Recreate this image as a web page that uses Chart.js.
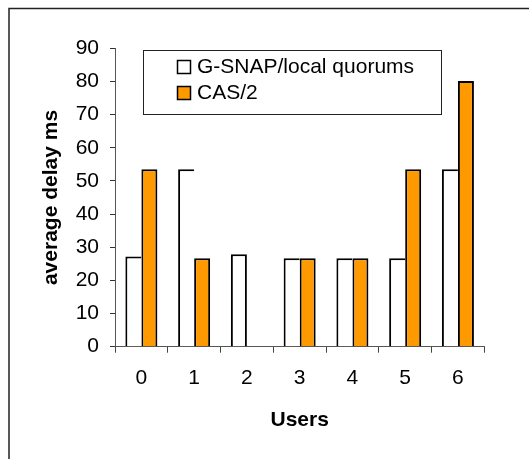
<!DOCTYPE html>
<html>
<head>
<meta charset="utf-8">
<script src="https://cdn.jsdelivr.net/npm/chart.js@4.4.1/dist/chart.umd.min.js"></script>
<style>
  html, body { margin: 0; padding: 0; background: #fff; overflow: hidden; }
  #wrap { width: 529px; height: 459px; overflow: hidden; }
  canvas { display: block; }
</style>
</head>
<body>
<div id="wrap"><canvas id="delayChart" width="529" height="459"></canvas></div>
<script>
// data
const users = ['0', '1', '2', '3', '4', '5', '6'];
const gsnap = [27.2, 53.5, 27.9, 26.7, 26.7, 26.7, 53.5];
const cas = [53.5, 26.7, null, 26.7, 26.7, 53.5, 80.1];
const seriesNames = ['G-SNAP/local quorums', 'CAS/2'];
const seriesColors = ['#ffffff', '#ff9900'];
const yTitle = 'average delay ms';
const xTitle = 'Users';

Chart.defaults.font.family = '"Liberation Sans", Arial, sans-serif';
Chart.defaults.color = '#000';

// outer frame (runs off the right and bottom of the picture)
const framePlugin = {
    id: 'frame',
    beforeDraw(chart) {
        const ctx = chart.ctx;
        ctx.save();
        ctx.strokeStyle = '#222';
        ctx.lineWidth = 1.5;
        ctx.beginPath();
        ctx.moveTo(9, chart.height + 5);
        ctx.lineTo(9, 8.5);
        ctx.lineTo(chart.width + 5, 8.5);
        ctx.stroke();
        ctx.restore();
    }
};

// boxed legend sitting inside the plot, like the old Excel one
const boxLegend = {
    id: 'boxLegend',
    afterDraw(chart) {
        const ctx = chart.ctx;
        const x0 = 143.5, y0 = 50.5, w = 298, h = 64;
        ctx.save();
        ctx.strokeStyle = '#222';
        ctx.lineWidth = 1;
        ctx.strokeRect(x0, y0, w, h);
        ctx.font = '21px "Liberation Sans", Arial, sans-serif';
        ctx.textBaseline = 'middle';
        ctx.textAlign = 'left';
        chart.data.datasets.forEach(function(ds, i) {
            const cy = 67 + i * 26;
            ctx.fillStyle = ds.backgroundColor;
            ctx.fillRect(177.5, cy - 6.5, 13, 13);
            ctx.strokeStyle = '#000';
            ctx.lineWidth = 1.5;
            ctx.strokeRect(177.5, cy - 6.5, 13, 13);
            ctx.fillStyle = '#000';
            ctx.fillText(ds.label, 197, cy);
        });
        ctx.restore();
    }
};

const ctx = document.getElementById('delayChart').getContext('2d');
new Chart(ctx, {
    type: 'bar',
    data: {
        labels: users,
        datasets: [
            {
                label: seriesNames[0],
                data: gsnap,
                backgroundColor: seriesColors[0],
                borderColor: '#000',
                // no right edge where the orange bar sits next to it
                borderWidth: function(c) {
                    const r = cas[c.dataIndex] == null ? 2 : 0;
                    return { top: 2, left: 2, right: r, bottom: 0 };
                },
                borderSkipped: false,
                barPercentage: 1,
                categoryPercentage: 0.607
            },
            {
                label: seriesNames[1],
                data: cas,
                backgroundColor: seriesColors[1],
                borderColor: '#000',
                borderWidth: { top: 2, left: 2, right: 2, bottom: 0 },
                borderSkipped: false,
                barPercentage: 1,
                categoryPercentage: 0.607
            }
        ]
    },
    options: {
        responsive: false,
        animation: false,
        layout: { padding: { top: 48.3, right: 44.7, left: 0, bottom: 0 } },
        plugins: {
            legend: { display: false },
            tooltip: { enabled: false }
        },
        scales: {
            x: {
                grid: {
                    offset: true,
                    drawOnChartArea: false,
                    drawTicks: true,
                    tickLength: 6,
                    color: '#444'
                },
                border: { color: '#555', width: 1 },
                ticks: { font: { size: 21 }, padding: 13, color: '#000' },
                title: {
                    display: true,
                    text: xTitle,
                    font: { size: 21, weight: 'bold' },
                    padding: { top: 0, bottom: 25.7 }
                },
                afterFit: function(s) { s.height = 112.3; }
            },
            y: {
                min: 0,
                max: 90,
                ticks: { stepSize: 10, font: { size: 21 }, padding: 11, color: '#000' },
                grid: {
                    drawOnChartArea: false,
                    drawTicks: true,
                    tickLength: 5,
                    color: '#333'
                },
                border: { color: '#555', width: 1 },
                title: {
                    display: true,
                    text: yTitle,
                    font: { size: 21, weight: 'bold' },
                    padding: { top: 38.2, bottom: 0 }
                },
                afterFit: function(s) { s.width = 115; }
            }
        }
    },
    plugins: [framePlugin, boxLegend]
});
</script>
</body>
</html>
